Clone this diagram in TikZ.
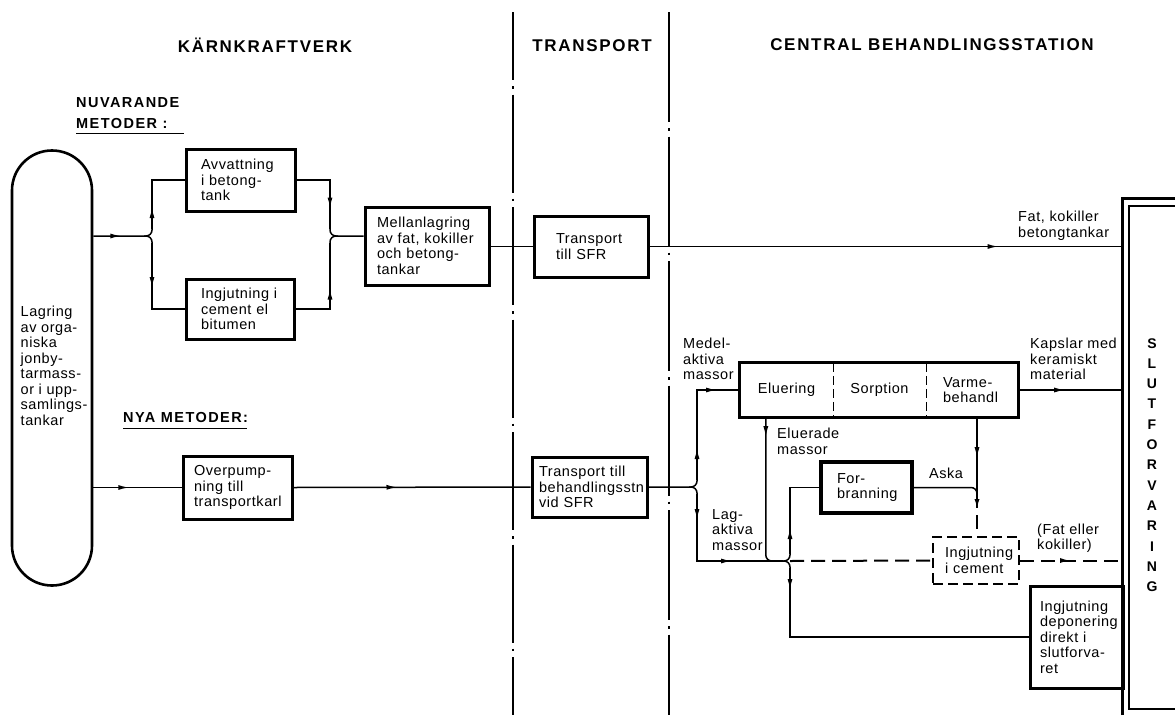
\documentclass[tikz,border=0pt]{standalone}
\usepackage{fontspec}
\setmainfont{Liberation Sans}
\newfontfamily\labfont[LetterSpace=4]{Liberation Sans}
\newfontfamily\hdfont[LetterSpace=10]{Liberation Sans}
\newfontfamily\subfont[LetterSpace=10]{Liberation Sans}
\usetikzlibrary{calc,decorations.markings,arrows.meta}
\tikzset{
  lab/.style={font=\labfont\fontsize{14.5pt}{15.5pt}\selectfont, align=left, inner sep=0pt},
  box/.style={draw, line width=3pt, lab},
  conn/.style={line width=1.5pt},
  ar/.style={postaction={decorate,decoration={markings,mark=at position #1 with {\arrow{Latex[length=11pt,width=5pt]}}}}},
  dl/.style={conn, line width=2pt, dash pattern=on 14pt off 7pt},
  divider/.style={line width=2.2pt, dash pattern=on 98pt off 6pt on 2.5pt off 6pt},
  hd/.style={font=\hdfont\bfseries\fontsize{17pt}{19pt}\selectfont, inner sep=0pt},
  sub/.style={font=\subfont\bfseries\fontsize{14.5pt}{21pt}\selectfont, align=left, anchor=west, inner sep=0pt},
}
\begin{document}
\begin{tikzpicture}[x=1pt,y=-1pt]
\useasboundingbox (0,0) rectangle (1175,715);
\coordinate (b1) at (152,236);
\coordinate (b2) at (330,236);
\coordinate (b3) at (697,487);
\coordinate (b4) at (790,561);
\coordinate (b5) at (977,494);
\coordinate (bot) at (0,715);
\coordinate (rt) at (1175,0);
\coordinate (si) at (1129,206);
\coordinate (sb) at (1129,709);

% section dividers
\draw[divider, dash phase=30pt] (513,12) -- (513,715);
\draw[divider, dash pattern=on 110pt off 6pt on 2.5pt off 6pt] (669,12) -- (669,715);

% headings
\node[hd] (t1) at (265,45) {KÄRNKRAFTVERK};
\node[hd] (t2) at (592,46) {TRANSPORT};
\node[hd] (t3) at (932,45) {CENTRAL BEHANDLINGSSTATION};
\node[sub] (nuv) at (76,113.5) {NUVARANDE\\METODER :};
\draw[line width=1.4pt] ($(nuv.south west)+(0,4)$) -- ++(108,0);
\node[sub] (nya) at (123,418) {NYA METODER:};
\draw[line width=1.4pt] ($(nya.south west)+(0,5)$) -- ++(124,0);

% tank
\node[draw, line width=2.6pt, rounded corners=39.9pt, minimum width=80pt, minimum height=435pt,
      font=\labfont\fontsize{14.5pt}{15.5pt}\selectfont, inner sep=0pt] (tank) at (52,368)
  {\hspace*{4pt}\begin{tabular}{@{}l@{}}Lagring\\av orga-\\niska\\jonby-\\tarmass-\\or i upp-\\samlings-\\tankar\end{tabular}};

% boxes
\node[box, text width=79pt, inner xsep=15pt, minimum height=62pt] (avv) at (240.5,180) {Avvattning\\i betong-\\tank};
\node[box, text width=78pt, inner xsep=15pt, minimum height=60pt] (ingA) at (240,309) {Ingjutning i\\cement el\\bitumen};
\node[box, text width=100pt, inner xsep=12pt, minimum height=78pt] (mell) at (427,246) {Mellanlagring\\av fat, kokiller\\och betong-\\tankar};
\node[box, text width=70pt, inner xsep=22pt, minimum height=61pt] (tsfr) at (591,246.5) {Transport\\till SFR};
\node[box, text width=87pt, inner xsep=11pt, minimum height=63pt] (over) at (237.5,487.5) {Overpump-\\ning till\\transportkarl};
\node[box, text width=101pt, inner xsep=7pt, minimum height=60pt] (tbeh) at (589.5,487) {Transport till\\behandlingsstn\\vid SFR};

\node[lab, align=center, minimum width=93pt, minimum height=54pt] (elu) at (786.5,390) {Eluering};
\node[lab, align=center, minimum width=93pt, minimum height=54pt] (sorp) at (879.5,390) {Sorption};
\node[lab, text width=58pt, inner xsep=17pt, minimum height=54pt] (varm) at (972,390) {Varme-\\behandl};
\draw[line width=3pt] (elu.north west) rectangle (varm.south east);
\draw[line width=1.4pt, dash pattern=on 9pt off 4pt] (elu.north east) -- (elu.south east);
\draw[line width=1.4pt, dash pattern=on 9pt off 4pt] (sorp.north east) -- (sorp.south east);

\node[box, line width=3.6pt, text width=59pt, inner xsep=16pt, minimum height=51pt] (forb) at (866.5,487.5) {For-\\branning};
\node[box, line width=2pt, dash pattern=on 10pt off 5pt, text width=62pt, inner xsep=12pt, minimum height=47pt] (ingc) at (976,560.5) {Ingjutning\\i cement};
\node[box, text width=73pt, inner xsep=10pt, minimum height=102pt] (ingd) at (1076.5,637) {Ingjutning\\deponering\\direkt i\\slutforva-\\ret};

% final repository
\node[font=\bfseries\fontsize{14pt}{20.3pt}\selectfont, align=center, minimum width=58pt,
      minimum height=532pt, inner sep=0pt] (slut) at (1152,465) {S\\L\\U\\T\\F\\O\\R\\V\\A\\R\\I\\N\\G};
\draw[line width=2.8pt] (slut.west |- bot) -- (slut.north west) -- (slut.north west -| rt);
\draw[line width=1.3pt] (rt |- si) -- (si) -- (sb) -- (rt |- sb);

% labels
\node[lab, anchor=west] (lfat) at (1018,225.5) {Fat, kokiller\\betongtankar};
\node[lab, anchor=west] (lkap) at (1030,359) {Kapslar med\\keramiskt\\material};
\node[lab, anchor=west] (lfat2) at (1037,538) {(Fat eller\\kokiller)};
\node[lab, anchor=west] (lmed) at (683,359) {Medel-\\aktiva\\massor};
\node[lab, anchor=west] (llag) at (712,530) {Lag-\\aktiva\\massor};
\node[lab, anchor=west] (lelu) at (777,441.5) {Eluerade\\massor};
\node[lab] (lask) at (946,473) {Aska};

% top connectors
\draw[conn, rounded corners=6pt, ar=28pt] (tank.east |- b1) -| ($(b1)+(0,-7)$);
\draw[conn, rounded corners=6pt] ($(b1)+(-8,0)$) -| ($(b1)+(0,7)$);
\draw[conn, ar=22pt] ($(b1)+(0,-7)$) |- (avv.west);
\draw[conn, ar=45pt] ($(b1)+(0,7)$) |- (ingA.west);
\draw[conn, ar=62pt] (avv.east) -| ($(b2)+(0,-7)$);
\draw[conn, ar=55pt] (ingA.east) -| ($(b2)+(0,7)$);
\draw[conn, rounded corners=6pt] ($(b2)+(0,-7)$) |- (mell.west |- b2);
\draw[conn, rounded corners=6pt] ($(b2)+(0,7)$) |- ($(b2)+(8,0)$);
\draw[conn] (mell.east |- tsfr.west) -- (tsfr.west);
\draw[conn, ar=349pt] (tsfr.east) -- (tsfr.east -| slut.west);

% bottom connectors
\draw[conn, ar=36pt] (tank.east |- over.west) -- (over.west);
\draw[conn, ar=104pt] (over.east) -- (tbeh.west);
\draw[conn, rounded corners=6pt] (tbeh.east) -| ($(b3)+(0,-7)$);
\draw[conn, rounded corners=6pt] ($(b3)+(-8,0)$) -| ($(b3)+(0,7)$);
\draw[conn, ar=32pt, ar=110pt] ($(b3)+(0,-7)$) |- (elu.west);
\draw[conn, ar=26pt, ar=102pt] ($(b3)+(0,7)$) |- ($(b4)+(-7,0)$);
\draw[conn, rounded corners=6pt] ($(b4)+(-7,0)$) -| ($(b4)+(0,-7)$);
\draw[conn, rounded corners=6pt] ($(b4)+(-7,0)$) -| ($(b4)+(0,7)$);
\draw[conn, ar=26pt] ($(b4)+(0,-7)$) |- (forb.west);
\draw[conn, ar=22pt] ($(b4)+(0,7)$) |- (ingd.west);
\draw[dl] (b4) -- (ingc.west);
\draw[conn, ar=20pt, rounded corners=6pt] ($(elu.south west)+(26,0)$) |- ($(b4)+(-14,0)$);
\draw[conn, ar=41pt] ($(varm.south)+(5,0)$) -- (b5);
\draw[conn, rounded corners=6pt] (forb.east) -| (b5);
\draw[dl, ar=16pt] (b5) -- (ingc.north -| b5);
\draw[conn, ar=47pt] (varm.east) -- (varm.east -| slut.west);
\draw[dl, ar=51pt] (ingc.east) -- (ingc.east -| slut.west);
\end{tikzpicture}
\end{document}
